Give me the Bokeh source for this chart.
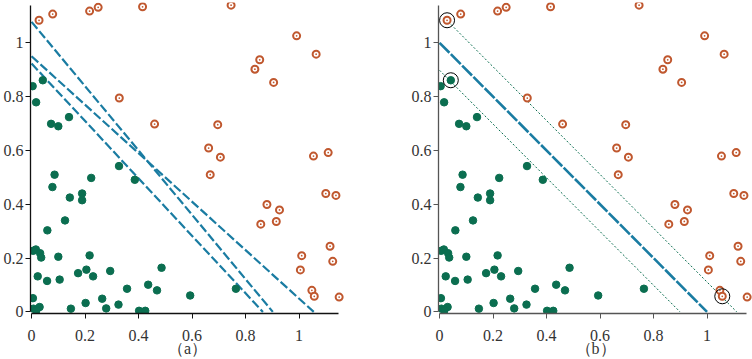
from bokeh.plotting import figure
from bokeh.layouts import row
from bokeh.models import FixedTicker
from bokeh.embed import file_html
from bokeh.resources import INLINE

# ---- data ----
green_x = [0.004, 0.042, 0.017, 0.073, 0.100, 0.140, 0.327, 0.086, 0.223, 0.386,
           0.078, 0.143, 0.189, 0.189, 0.125, 0.059, 0.006, 0.016, 0.032, 0.036,
           0.100, 0.217, 0.205, 0.174, 0.230, 0.294, 0.023, 0.058, 0.105, 0.486,
           0.357, 0.436, 0.469, 0.593, 0.764, 0.005, 0.264, 0.202, 0.325, 0.279,
           0.147, 0.030, 0.007, 0.018, 0.402, 0.425]
green_y = [0.839, 0.861, 0.779, 0.699, 0.690, 0.724, 0.542, 0.510, 0.498, 0.491,
           0.464, 0.425, 0.440, 0.415, 0.340, 0.303, 0.227, 0.232, 0.218, 0.202,
           0.205, 0.210, 0.157, 0.144, 0.132, 0.152, 0.132, 0.115, 0.120, 0.164,
           0.086, 0.101, 0.080, 0.061, 0.086, 0.051, 0.049, 0.033, 0.027, 0.013,
           0.012, 0.018, 0.012, 0.006, 0.004, 0.004]

orange_x = [0.028, 0.079, 0.217, 0.249, 0.415, 0.328, 0.460, 0.746, 0.991, 1.064,
            0.853, 0.835, 0.905, 0.696, 0.662, 0.706, 0.668, 1.054, 1.109, 1.100,
            1.138, 0.880, 0.927, 0.857, 0.915, 1.116, 1.126, 1.010, 1.005, 1.048,
            1.057, 1.150]
orange_y = [1.084, 1.107, 1.118, 1.132, 1.134, 0.795, 0.698, 1.140, 1.026, 0.958,
            0.937, 0.902, 0.853, 0.696, 0.609, 0.575, 0.510, 0.579, 0.592, 0.440,
            0.433, 0.399, 0.379, 0.326, 0.336, 0.244, 0.188, 0.209, 0.156, 0.080,
            0.058, 0.055]

# panel (a): three candidate separating lines (start on y axis, end on x axis)
lines_a_x0 = [0.0, 0.0, 0.0]
lines_a_y0 = [1.078, 0.950, 0.923]
lines_a_x1 = [0.902, 1.055, 0.865]
lines_a_y1 = [0.0, 0.0, 0.0]

# panel (b): maximum-margin line and its two margin lines
best_x = [0.0, 1.0]
best_y = [1.0, 0.0]
margin_up_x = [0.022, 1.111]
margin_up_y = [1.089, 0.0]
margin_lo_x = [0.0, 0.899]
margin_lo_y = [0.898, 0.0]

# support vectors (circled)
sv_x = [0.028, 0.042, 1.057]
sv_y = [1.084, 0.861, 0.058]

tick_vals = [0, 0.2, 0.4, 0.6, 0.8, 1]
tick_labels = ["0", "0.2", "0.4", "0.6", "0.8", "1"]
captions = ["（a）", "（b）"]

GREEN = "#0b6e50"
ORANGE = "#c0582f"
BLUE = "#1a7ca2"
FONT = "Liberation Serif"


def make_panel(width, right_border, caption, axis_color):
    p = figure(width=width, height=359, x_range=(-0.004, 1.17), y_range=(-0.006, 1.15),
               output_backend="svg", toolbar_location=None,
               min_border_top=2, min_border_left=25, min_border_right=right_border,
               min_border_bottom=46)
    p.grid.visible = False
    p.outline_line_color = None
    for ax in (p.xaxis[0], p.yaxis[0]):
        ax.ticker = FixedTicker(ticks=tick_vals)
        ax.major_label_overrides = {v: s for v, s in zip(tick_vals, tick_labels)}
        ax.minor_tick_line_color = None
        ax.major_tick_out = 5
        ax.major_tick_in = 0
        ax.axis_line_color = axis_color
        ax.axis_line_width = 1.3
        ax.major_tick_line_color = axis_color
        ax.major_label_text_font = FONT
        ax.major_label_text_font_size = "16px"
        ax.major_label_text_color = "#333333"
    p.xaxis[0].major_label_standoff = 11
    p.yaxis[0].major_label_standoff = 2
    p.xaxis[0].bounds = (0, 1.148)
    p.yaxis[0].bounds = (0, 1.14)
    p.xaxis[0].axis_label = caption
    p.xaxis[0].axis_label_standoff = -4
    p.xaxis[0].axis_label_text_font = FONT
    p.xaxis[0].axis_label_text_font_style = "normal"
    p.xaxis[0].axis_label_text_font_size = "16px"
    p.xaxis[0].axis_label_text_color = "#333333"
    return p


pa = make_panel(408, 64, captions[0], "#111111")
pa.segment(x0=lines_a_x0, y0=lines_a_y0, x1=lines_a_x1, y1=lines_a_y1,
           line_color=BLUE, line_width=2.2, line_dash="9 3")
pa.scatter(green_x, green_y, size=7.5, fill_color=GREEN, line_color=GREEN)
pa.scatter(orange_x, orange_y, marker="circle_dot", size=7, fill_color="white",
           line_color=ORANGE, line_width=2)

pb = make_panel(344, 0, captions[1], "#555555")
pb.line(margin_up_x, margin_up_y, line_color=GREEN, line_width=1, line_dash="2 2")
pb.line(margin_lo_x, margin_lo_y, line_color=GREEN, line_width=1, line_dash="2 2")
pb.line(best_x, best_y, line_color=BLUE, line_width=2.6, line_dash="14 2")
pb.scatter(green_x, green_y, size=7.5, fill_color=GREEN, line_color=GREEN)
pb.scatter(orange_x, orange_y, marker="circle_dot", size=7, fill_color="white",
           line_color=ORANGE, line_width=2)
pb.scatter(sv_x, sv_y, size=15, fill_color=None, line_color="black", line_width=1)

layout = row(pa, pb)
open("out.html", "w").write(file_html(layout, INLINE))
